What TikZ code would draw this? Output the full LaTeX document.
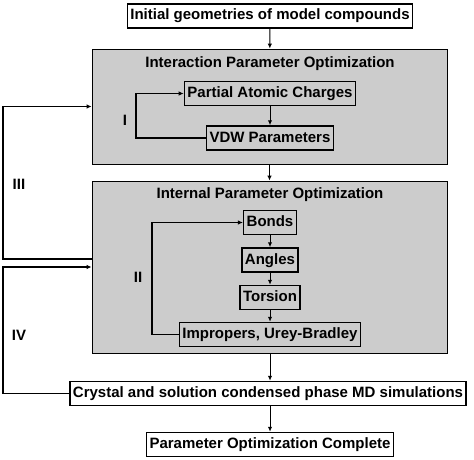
\documentclass[tikz,border=0pt]{standalone}
\usepackage{fontspec}
\setmainfont{Liberation Sans}
\usetikzlibrary{arrows.meta}

\begin{document}
\begin{tikzpicture}[x=1pt, y=-1pt, >={Latex[length=5pt,width=4.5pt]},
  every node/.style={font=\bfseries\fontsize{15}{17}\selectfont},
  stepbox/.style={draw, line width=1.5pt, inner xsep=3pt, inner ysep=5pt, text height=11pt, text depth=3pt},
  panel/.style={draw, line width=0.8pt, fill=black!20, minimum width=355pt, inner sep=0pt},
  link/.style={line width=1pt, ->},
  loop/.style={line width=1.5pt, ->}]
\useasboundingbox (0,0) rectangle (474,460);
\node[panel, minimum height=115pt] (G1) at (269.5,106.5) {};
\node[panel, minimum height=172pt] (G2) at (269.5,267) {};
\node[stepbox] (N1) at (270,16) {Initial geometries of model compounds};
\node (T1) at (270,64) {Interaction Parameter Optimization};
\node[stepbox] (N2) at (270,93.5) {Partial Atomic Charges};
\node[stepbox] (N3) at (270,138) {VDW Parameters};
\node (T2) at (270,195) {Internal Parameter Optimization};
\node[stepbox] (N4) at (270,222.5) {Bonds};
\node[stepbox] (N5) at (270,260) {Angles};
\node[stepbox] (N6) at (270,297.5) {Torsion};
\node[stepbox] (N7) at (270,334.5) {Impropers, Urey-Bradley};
\node[stepbox] (N8) at (268,393.5) {Crystal and solution condensed phase MD simulations};
\node[stepbox] (N9) at (270,444.5) {Parameter Optimization Complete};
\node (L1) at (125,120) {I};
\node (L2) at (138,277) {II};
\node (L3) at (19,184) {III};
\node (L4) at (19,335) {IV};
\draw[link] (N1) -- (G1);
\draw[link] (N2) -- (N3);
\draw[link] (G1) -- (G2);
\draw[link] (N4) -- (N5);
\draw[link] (N5) -- (N6);
\draw[link] (N6) -- (N7);
\draw[link] (G2.south -| N8.north) ++(2,0) -- ([xshift=2pt]N8.north);
\draw[link] ([xshift=2pt]N8.south) -- ([xshift=2pt]N8.south |- N9.north);
\draw[loop] (N3.west) -- (136,138) |- (N2.west);
\draw[loop] (N7.west) -- (152,334.5) |- (N4.west);
\draw[loop] ([yshift=8pt]G2.west) -- (3,259) |- (G1.west);
\draw[loop] (N8.west) -- (3,393.5) |- (G2.west);
\end{tikzpicture}
\end{document}
